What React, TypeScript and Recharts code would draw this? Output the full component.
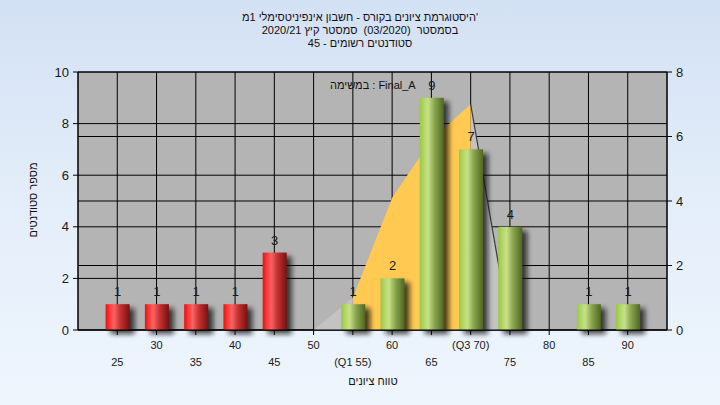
import React from 'react';
import { ComposedChart, Bar, Area, XAxis, YAxis, CartesianGrid } from 'recharts';

// ---- data ----
const grades = [25, 30, 35, 40, 45, 50, 55, 60, 65, 70, 75, 80, 85, 90];
const gradeTickLabels = ['25', '30', '35', '40', '45', '50', '(Q1 55)', '60', '65', '(Q3 70)', '75', '80', '85', '90'];
const studentCounts = [1, 1, 1, 1, 3, 0, 1, 2, 9, 7, 4, 0, 1, 1];
const curveValues: (number | null)[] = [null, null, null, null, null, 0, 1, 4.1, 5.9, 7, 0, null, null, null];
const q1Grade = 55;
const q3Grade = 70;
const passGrade = 50;
const leftTicks = [0, 2, 4, 6, 8, 10];
const rightTicks = [0, 2, 4, 6, 8];
const titleLines = [
  { text: "היסטוגרמת ציונים בקורס - חשבון אינפיניטסימלי 1מ'", dir: 'ltr' },
  { text: 'בסמסטר  (03/2020)  סמסטר קיץ 2020/21', dir: 'rtl' },
  { text: 'סטודנטים רשומים - 45', dir: 'rtl' },
];
const legendText = 'במשימה : Final_A';
const yAxisTitle = 'מספר סטודנטים';
const xAxisTitle = 'טווח ציונים';

const data = grades.map((g, i) => {
  const v = curveValues[i];
  return {
    grade: g,
    count: studentCounts[i],
    inner: v != null && g >= q1Grade && g <= q3Grade ? v : null,
    outer: v != null && (g <= q1Grade || g >= q3Grade) ? v : null,
    tail: v != null && g >= q3Grade ? v : null,
  };
});

const FONT = "'Liberation Sans', 'DejaVu Sans', Arial, sans-serif";

const BarShape = (props: any) => {
  const { x, y, width, height, payload, index } = props;
  if (!height || height <= 0) return null;
  const red = payload.grade < passGrade;
  const gid = `barGrad${index}`;
  const fid = `barShadow${index}`;
  const stops = red
    ? [
        ['0', '#e01414'],
        ['0.18', '#ff3a3a'],
        ['0.35', '#f86464'],
        ['0.6', '#c83232'],
        ['1', '#7a1010'],
      ]
    : [
        ['0', '#9cc64a'],
        ['0.2', '#b6d868'],
        ['0.35', '#c6e08a'],
        ['0.6', '#8ca850'],
        ['1', '#4e6820'],
      ];
  return (
    <g>
      <defs>
        <linearGradient id={gid} x1="0" y1="0" x2="1" y2="0">
          {stops.map(([o, c]) => (
            <stop key={o} offset={o} stopColor={c} />
          ))}
        </linearGradient>
        <filter id={fid} x="-50%" y="-50%" width="200%" height="200%">
          <feGaussianBlur stdDeviation="2.4" />
        </filter>
      </defs>
      <rect x={x + 5} y={y + 4} width={width} height={height} fill="#111" opacity={0.75} filter={`url(#${fid})`} />
      <rect x={x} y={y} width={width} height={height} fill={`url(#${gid})`} />
    </g>
  );
};

const BarLabel = (props: any) => {
  const { x, y, width, value } = props;
  if (!value) return null;
  return (
    <text x={x + width / 2} y={y - 8} textAnchor="middle" fontSize={13} fontFamily={FONT} fill="#1a1a1a">
      {value}
    </text>
  );
};

const XTick = (props: any) => {
  const { x, y, payload } = props;
  const i = grades.indexOf(payload.value);
  const secondRow = i % 2 === 0;
  return (
    <text x={x} y={y + (secondRow ? 29 : 12)} textAnchor="middle" fontSize={11} fontFamily={FONT} fill="#1a1a1a">
      {gradeTickLabels[i]}
    </text>
  );
};

export default function App() {
  return (
    <div
      style={{
        position: 'fixed',
        left: 0,
        top: 0,
        width: 720,
        height: 405,
        background: 'linear-gradient(180deg, #d3e1f4 0%, #e4eefa 50%, #eef5fd 100%)',
        fontFamily: FONT,
        overflow: 'hidden',
      }}
    >
      <div
        style={{
          position: 'absolute',
          left: 0,
          top: 11,
          width: 720,
          textAlign: 'center',
          fontSize: 11,
          lineHeight: '13px',
          color: '#111',
        }}
      >
        {titleLines.map((t) => (
          <div key={t.text} style={{ direction: t.dir as any, whiteSpace: 'pre' }}>
            {t.text}
          </div>
        ))}
      </div>
      <ComposedChart
        width={720}
        height={405}
        data={data}
        margin={{ top: 72, right: 13, bottom: 35, left: 38 }}
        style={{ position: 'absolute', left: 0, top: 0 }}
      >
        <CartesianGrid yAxisId="left" stroke="#000" fill="#b4b4b4" fillOpacity={1} />
        <CartesianGrid yAxisId="right" stroke="#000" vertical={false} />
        <XAxis
          dataKey="grade"
          type="number"
          domain={[20, 95]}
          ticks={grades}
          interval={0}
          height={40}
          tickSize={5}
          stroke="#000"
          tick={<XTick />}
        />
        <YAxis
          yAxisId="left"
          domain={[0, 10]}
          ticks={leftTicks}
          width={40}
          tickSize={5}
          tickMargin={4}
          stroke="#000"
          tick={{ fill: '#1a1a1a', fontSize: 13, fontFamily: FONT }}
        />
        <YAxis
          yAxisId="right"
          orientation="right"
          domain={[0, 8]}
          ticks={rightTicks}
          width={40}
          tickSize={5}
          tickMargin={4}
          stroke="#000"
          tick={{ fill: '#1a1a1a', fontSize: 13, fontFamily: FONT }}
        />
        <Area
          yAxisId="right"
          type="linear"
          dataKey="outer"
          fill="#c3c3c3"
          fillOpacity={1}
          stroke="none"
          isAnimationActive={false}
        />
        <Area
          yAxisId="right"
          type="linear"
          dataKey="inner"
          fill="#ffc952"
          fillOpacity={1}
          stroke="none"
          isAnimationActive={false}
        />
        <Area
          yAxisId="right"
          type="linear"
          dataKey="tail"
          fill="none"
          fillOpacity={0}
          stroke="#3a3a3a"
          strokeWidth={1.2}
          dot={false}
          activeDot={false}
          isAnimationActive={false}
        />
        <Bar
          yAxisId="left"
          dataKey="count"
          barSize={24}
          shape={<BarShape />}
          label={<BarLabel />}
          isAnimationActive={false}
        />
      </ComposedChart>
      <div
        style={{
          position: 'absolute',
          left: 330,
          top: 78,
          fontSize: 11,
          lineHeight: '14px',
          color: '#111',
          whiteSpace: 'nowrap',
        }}
      >
        {legendText}
      </div>
      <div
        style={{
          position: 'absolute',
          left: 273,
          width: 200,
          top: 374,
          textAlign: 'center',
          fontSize: 11,
          lineHeight: '14px',
          color: '#111',
        }}
      >
        {xAxisTitle}
      </div>
      <div
        style={{
          position: 'absolute',
          left: 33 - 60,
          top: 200 - 7,
          width: 120,
          textAlign: 'center',
          fontSize: 11,
          lineHeight: '14px',
          color: '#111',
          transform: 'rotate(-90deg)',
        }}
      >
        {yAxisTitle}
      </div>
    </div>
  );
}
